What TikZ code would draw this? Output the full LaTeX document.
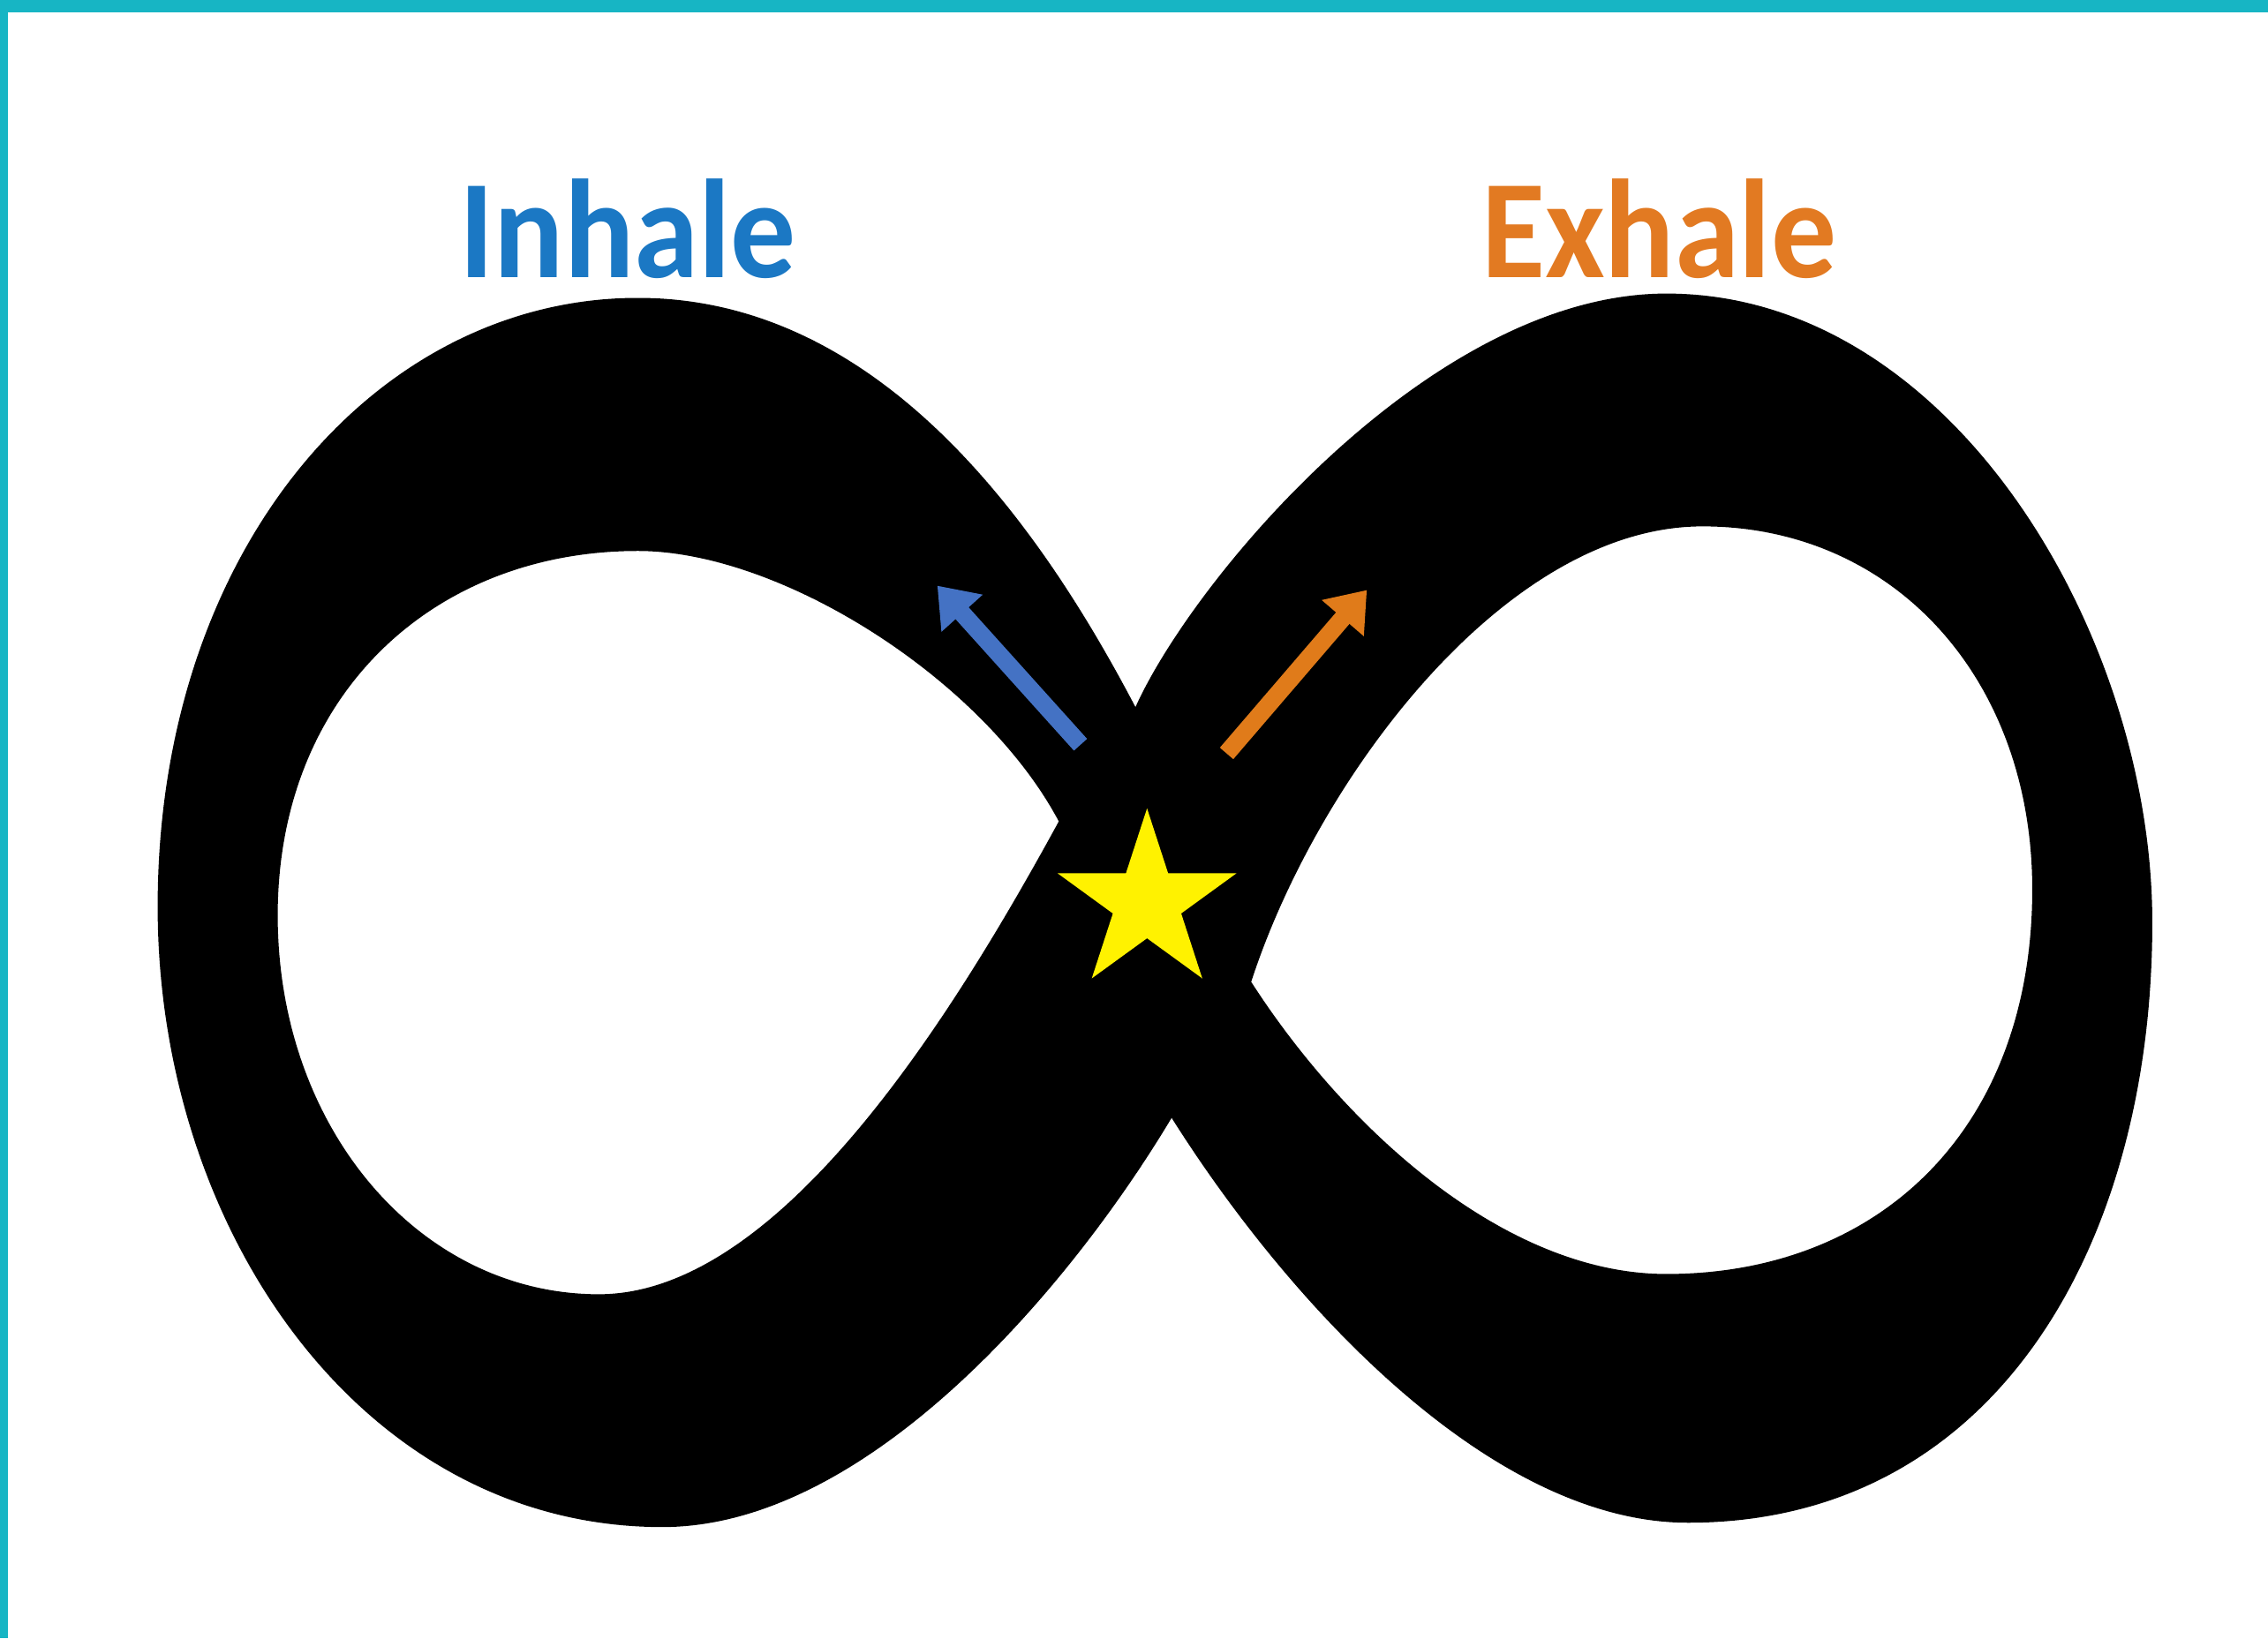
\documentclass[tikz,border=0pt]{standalone}
\usepackage{fontspec}
\setmainfont{Carlito}
\usetikzlibrary{shapes.geometric,arrows.meta}
\definecolor{edgeteal}{HTML}{17B5C4}
\definecolor{inblue}{HTML}{1B78C4}
\definecolor{exorange}{HTML}{E27A22}
\definecolor{arrblue}{HTML}{4472C4}
\definecolor{arrorange}{HTML}{E07B1A}
\begin{document}
\begin{tikzpicture}[x=0.016384cm, y=-0.016384cm,
    breath/.style={line width=0.2cm, -{Triangle[width=0.6cm,length=0.42cm]}},
    word/.style={font=\fontsize{42}{42}\selectfont\bfseries, inner sep=0pt}]
				\useasboundingbox (0,0) rectangle (1568,1133);
				\fill[white] (0,0) rectangle (1568,1133);
				\fill[edgeteal] (0,0) rectangle (1568,8.5);
				\fill[edgeteal] (0,0) rectangle (5.5,1133);
				\fill[black, even odd rule]
					(785,489) .. controls (825,400) and (990,203) .. (1152,203)
					.. controls (1350,203) and (1488,440) .. (1488,638)
					.. controls (1488,860) and (1380,1053) .. (1167,1053)
					.. controls (1030,1053) and (890,900) .. (810,773)
					.. controls (740,890) and (600,1056) .. (458,1056)
					.. controls (250,1056) and (109,850) .. (109,627)
					.. controls (109,380) and (260,206) .. (441,206)
					.. controls (610,206) and (720,365) .. (785,489) -- cycle
					(441,381) .. controls (540,381) and (680,470) .. (732,568)
					.. controls (660,700) and (540,895) .. (414,895)
					.. controls (290,895) and (192,780) .. (192,633)
					.. controls (192,480) and (300,381) .. (441,381) -- cycle
					(865,679) .. controls (910,540) and (1040,364) .. (1177,364)
					.. controls (1310,364) and (1405,470) .. (1405,615)
					.. controls (1405,780) and (1300,881) .. (1152,881)
					.. controls (1040,881) and (930,780) .. (865,679) -- cycle;
				\node[word, inblue] (inhale) at (434,158) {\scalebox{1}[1.08]{Inhale}};
				\node[word, exorange] (exhale) at (1147,158) {\scalebox{1}[1.08]{Exhale}};
				\coordinate (inTail) at (747,515);
				\coordinate (inHead) at (648,405);
				\coordinate (exTail) at (848,521);
				\coordinate (exHead) at (945,408);
				\draw[breath, arrblue] (inTail) -- (inHead);
				\draw[breath, arrorange] (exTail) -- (exHead);
				\node[star, star points=5, star point ratio=2.618, fill=yellow, inner sep=0pt, minimum size=2.13cm] (spark) at (793,624) {};
			\end{tikzpicture}
\end{document}
